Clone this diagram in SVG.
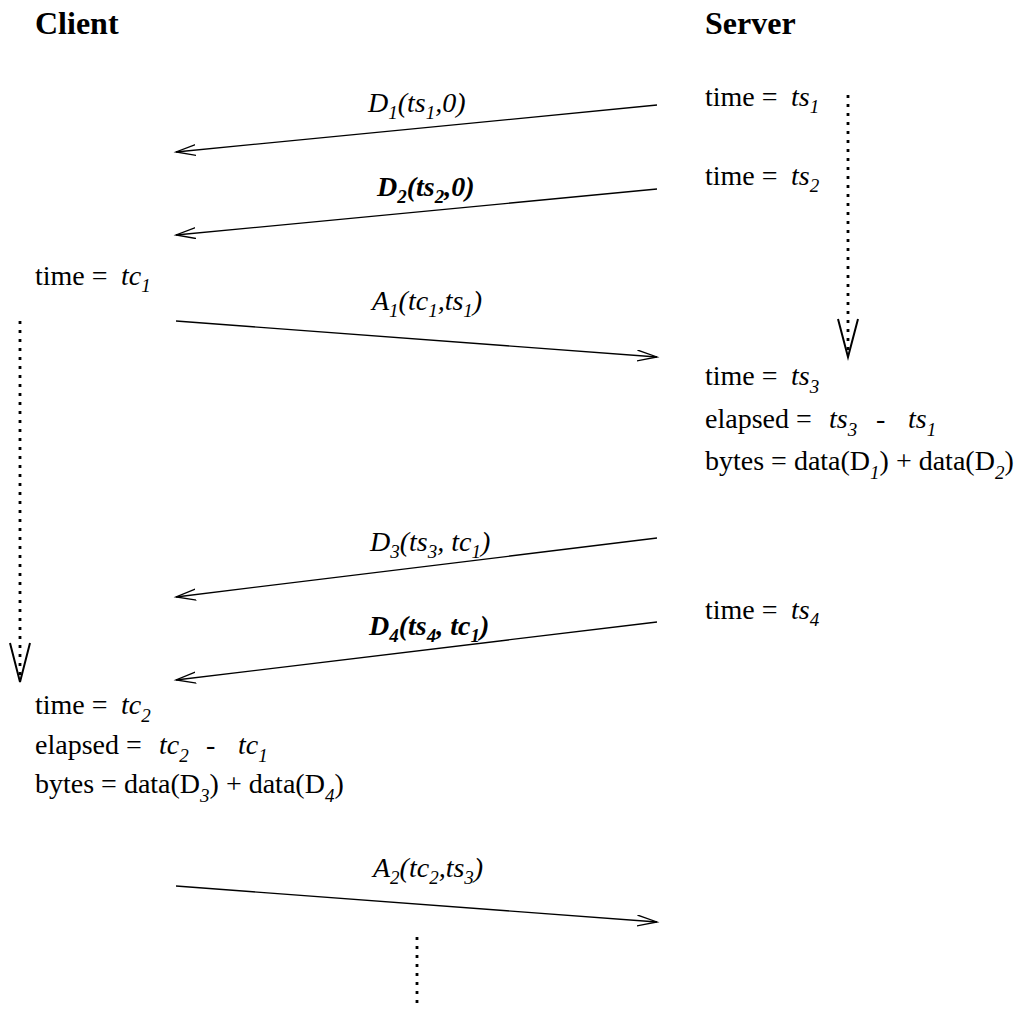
<svg xmlns="http://www.w3.org/2000/svg" width="1021" height="1009" viewBox="0 0 1021 1009">
<style>
text{font-family:"Liberation Serif","Times New Roman",serif;font-size:28px;fill:#000}
.h{font-weight:bold;font-size:32px}
.i{font-style:italic}
.bi{font-style:italic;font-weight:bold}
.s{font-size:19px;font-style:italic}
.msg{fill:none;stroke:#000;stroke-width:1.3;marker-end:url(#ah)}
.dot{fill:none;stroke:#000;stroke-width:2.8;stroke-dasharray:3 6}
.vh{fill:none;stroke:#000;stroke-width:2}
</style>
<defs>
<marker id="ah" markerUnits="userSpaceOnUse" markerWidth="24" markerHeight="14" refX="20" refY="6" orient="auto">
<path d="M0,0.5 L20,6 L0,11.5" fill="none" stroke="#000" stroke-width="1.3"/>
</marker>
</defs>
<rect width="1021" height="1009" fill="#fff"/>
<g id="client"><text class="h" x="35" y="34">Client</text></g>
<g id="server"><text class="h" x="705" y="34">Server</text></g>
<g id="ts1"><text x="705" y="106">time =<tspan class="i" x="791">ts</tspan><tspan class="s" y="113">1</tspan></text></g>
<g id="ts2"><text x="705" y="185">time =<tspan class="i" x="791">ts</tspan><tspan class="s" y="192">2</tspan></text></g>
<g id="tc1"><text x="35" y="285">time =<tspan class="i" x="121">tc</tspan><tspan class="s" y="292">1</tspan></text></g>
<g id="ts3"><text x="705" y="385">time =<tspan class="i" x="791">ts</tspan><tspan class="s" y="393">3</tspan></text>
<text x="705" y="428">elapsed =<tspan class="i" x="829">ts</tspan><tspan class="s" y="436">3</tspan><tspan y="428" x="876">-</tspan><tspan class="i" x="908">ts</tspan><tspan class="s" y="436">1</tspan></text>
<text x="705" y="470">bytes = data(D<tspan class="s" y="479">1</tspan><tspan y="470">) + data(D</tspan><tspan class="s" y="479">2</tspan><tspan y="470">)</tspan></text></g>
<g id="ts4"><text x="705" y="619">time =<tspan class="i" x="791">ts</tspan><tspan class="s" y="626">4</tspan></text></g>
<g id="tc2"><text x="35" y="714">time =<tspan class="i" x="121">tc</tspan><tspan class="s" y="722">2</tspan></text>
<text x="35" y="754">elapsed =<tspan class="i" x="159">tc</tspan><tspan class="s" y="762">2</tspan><tspan y="754" x="206">-</tspan><tspan class="i" x="238">tc</tspan><tspan class="s" y="762">1</tspan></text>
<text x="35" y="793">bytes = data(D<tspan class="s" y="802">3</tspan><tspan y="793">) + data(D</tspan><tspan class="s" y="802">4</tspan><tspan y="793">)</tspan></text></g>
<g id="labels">
<text class="i" x="368" y="112">D<tspan class="s" y="119">1</tspan><tspan y="112">(ts</tspan><tspan class="s" y="119">1</tspan><tspan y="112">,0)</tspan></text>
<text class="bi" x="377" y="196">D<tspan class="s" y="203" font-weight="bold">2</tspan><tspan y="196">(ts</tspan><tspan class="s" y="203" font-weight="bold">2</tspan><tspan y="196">,0)</tspan></text>
<text class="i" x="372" y="310">A<tspan class="s" y="317">1</tspan><tspan y="310">(tc</tspan><tspan class="s" y="317">1</tspan><tspan y="310">,ts</tspan><tspan class="s" y="317">1</tspan><tspan y="310">)</tspan></text>
<text class="i" x="370" y="551">D<tspan class="s" y="558">3</tspan><tspan y="551">(ts</tspan><tspan class="s" y="558">3</tspan><tspan y="551">, tc</tspan><tspan class="s" y="558">1</tspan><tspan y="551">)</tspan></text>
<text class="bi" x="369" y="635">D<tspan class="s" y="642" font-weight="bold">4</tspan><tspan y="635">(ts</tspan><tspan class="s" y="642" font-weight="bold">4</tspan><tspan y="635">, tc</tspan><tspan class="s" y="642" font-weight="bold">1</tspan><tspan y="635">)</tspan></text>
<text class="i" x="373" y="877">A<tspan class="s" y="884">2</tspan><tspan y="877">(tc</tspan><tspan class="s" y="884">2</tspan><tspan y="877">,ts</tspan><tspan class="s" y="884">3</tspan><tspan y="877">)</tspan></text>
</g>
<g id="connectors">
<line class="msg" x1="657" y1="105" x2="176" y2="152"/>
<line class="msg" x1="657" y1="189" x2="176" y2="235"/>
<line class="msg" x1="176" y1="321" x2="657" y2="357"/>
<line class="msg" x1="657" y1="538" x2="176" y2="597"/>
<line class="msg" x1="657" y1="622" x2="176" y2="680"/>
<line class="msg" x1="176" y1="886" x2="657" y2="922"/>
<line class="dot" x1="848" y1="95" x2="848" y2="352"/>
<polyline class="vh" points="838,319 848,357 858,319"/>
<line class="dot" x1="20" y1="321" x2="20" y2="677"/>
<polyline class="vh" points="10,643 20,682 30,643"/>
<line class="dot" x1="417" y1="937" x2="417" y2="1009"/>
</g>
</svg>
